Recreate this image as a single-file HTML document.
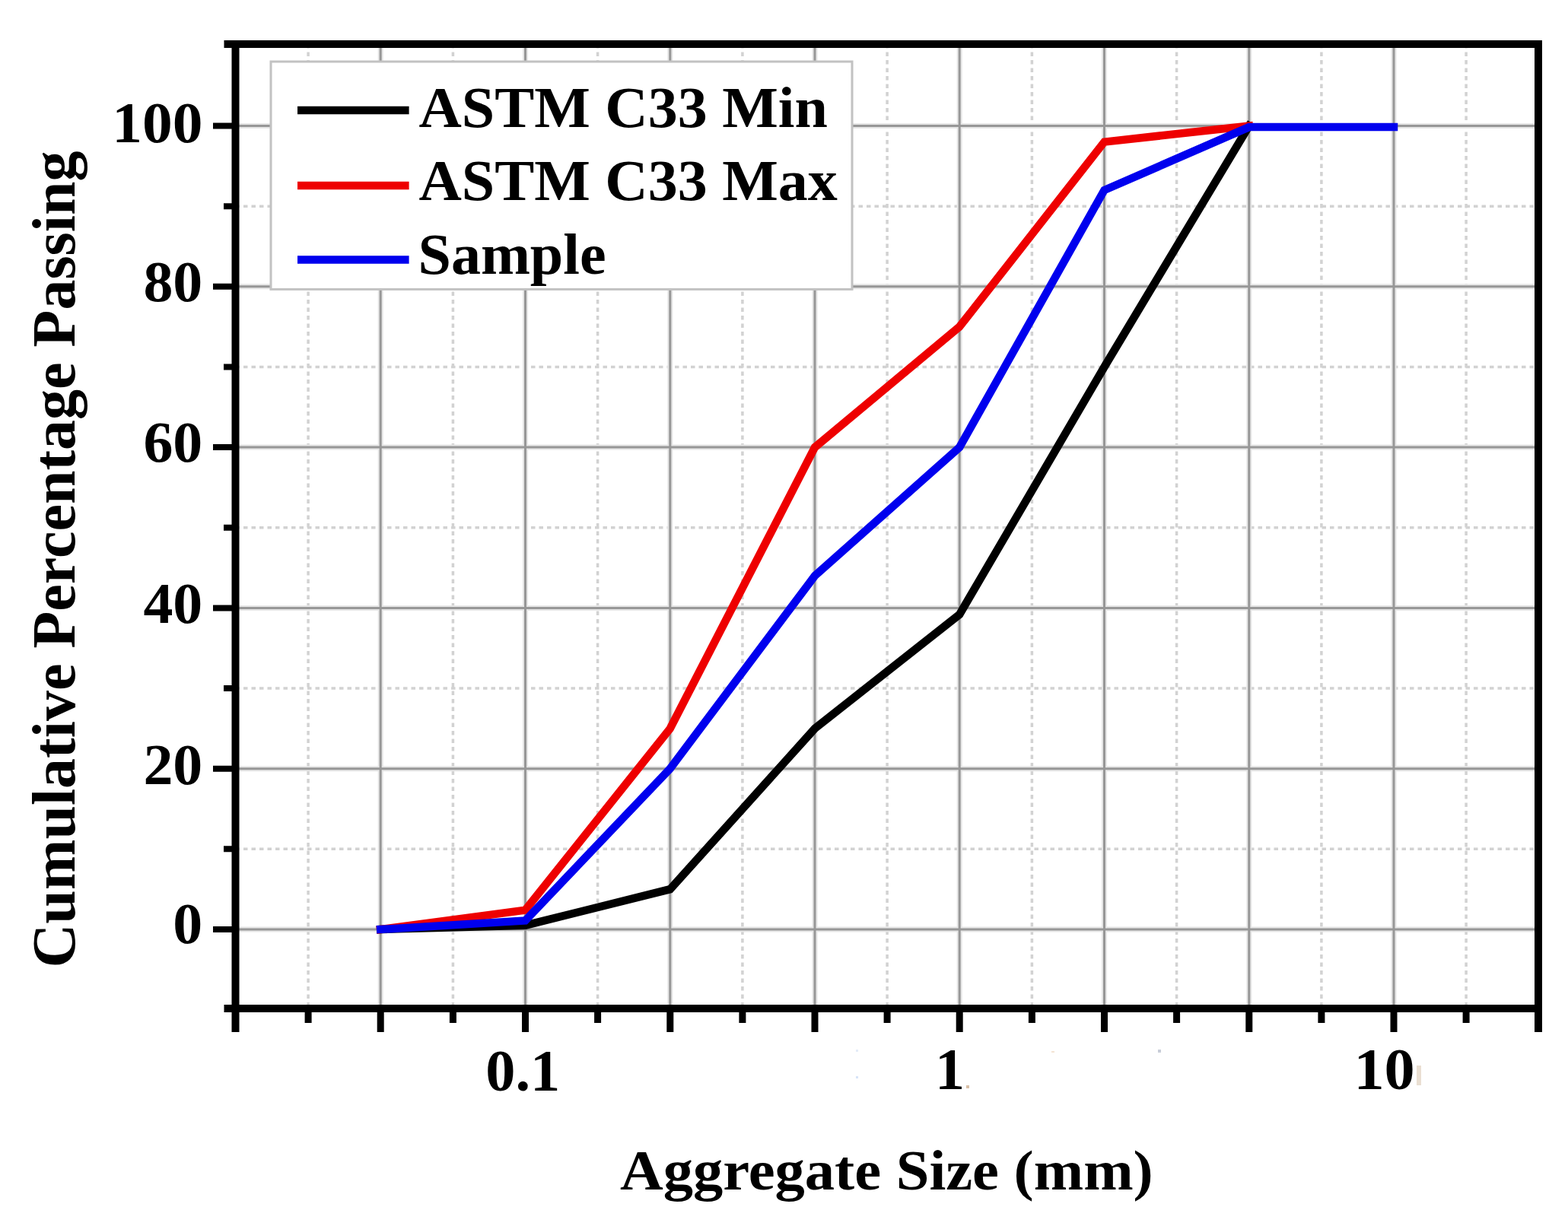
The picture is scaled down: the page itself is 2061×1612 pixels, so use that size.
<!DOCTYPE html><html><head><meta charset="utf-8"><style>html,body{margin:0;padding:0;background:#fff;}svg{display:block;filter:blur(0.55px);}text{font-family:"Liberation Serif","Times New Roman",serif;font-weight:bold;fill:#000;}</style></head><body>
<svg width="2061" height="1612" viewBox="0 0 2061 1612">
<rect width="2061" height="1612" fill="#fff"/>
<path d="M405.1 58.0V1326.0M595.4 58.0V1326.0M785.6 58.0V1326.0M975.9 58.0V1326.0M1166.1 58.0V1326.0M1356.4 58.0V1326.0M1546.6 58.0V1326.0M1736.9 58.0V1326.0M1927.1 58.0V1326.0M309.5 1116.3H2022.0M309.5 905.0H2022.0M309.5 693.8H2022.0M309.5 482.5H2022.0M309.5 271.2H2022.0" stroke="#d2d2d2" stroke-width="3.5" stroke-dasharray="5.5 5" fill="none"/>
<path d="M500.2 58.0V1326.0M690.5 58.0V1326.0M880.8 58.0V1326.0M1071.0 58.0V1326.0M1261.2 58.0V1326.0M1451.5 58.0V1326.0M1641.8 58.0V1326.0M1832.0 58.0V1326.0M309.5 1222.0H2022.0M309.5 1010.7H2022.0M309.5 799.4H2022.0M309.5 588.1H2022.0M309.5 376.8H2022.0M309.5 165.5H2022.0" stroke="#e6e6e6" stroke-width="7" fill="none"/>
<path d="M500.2 58.0V1326.0M690.5 58.0V1326.0M880.8 58.0V1326.0M1071.0 58.0V1326.0M1261.2 58.0V1326.0M1451.5 58.0V1326.0M1641.8 58.0V1326.0M1832.0 58.0V1326.0M309.5 1222.0H2022.0M309.5 1010.7H2022.0M309.5 799.4H2022.0M309.5 588.1H2022.0M309.5 376.8H2022.0M309.5 165.5H2022.0" stroke="#979797" stroke-width="3" fill="none"/>
<rect x="356" y="81" width="764" height="299.4" fill="#fff" stroke="#c2c2c2" stroke-width="3"/>
<path d="M391 145H537.6" stroke="#000" stroke-width="10.5" fill="none"/>
<path d="M391 244H537.6" stroke="#ee0000" stroke-width="10.5" fill="none"/>
<path d="M391 341.4H537.6" stroke="#0000ee" stroke-width="10.5" fill="none"/>
<text transform="translate(550.52 166.80) scale(1.0130 1)" font-size="77">ASTM C33 Min</text>
<text transform="translate(550.52 263.40) scale(1.0130 1)" font-size="77">ASTM C33 Max</text>
<text transform="translate(549.50 360.20) scale(1.0130 1)" font-size="77">Sample</text>
<polyline points="500.2,1222.0 690.5,1216.7 880.8,1169.2 1071.0,957.9 1261.2,807.9 1451.5,482.5 1641.8,165.5" stroke="#000000" stroke-width="10.5" fill="none" stroke-linejoin="miter" stroke-linecap="square"/>
<polyline points="500.2,1222.0 690.5,1196.6 880.8,957.9 1071.0,588.1 1261.2,429.6 1451.5,186.6 1641.8,165.5" stroke="#ee0000" stroke-width="10.5" fill="none" stroke-linejoin="miter" stroke-linecap="square"/>
<polyline points="500.2,1222.0 690.5,1210.4 880.8,1010.7 1071.0,757.1 1261.2,588.1 1451.5,250.0 1641.8,167.1 1832.0,167.1" stroke="#0000ee" stroke-width="10.5" fill="none" stroke-linejoin="miter" stroke-linecap="square"/>
<path d="M294.5 58.0H2027.0M294.5 1326.0H2022.0" stroke="#000" stroke-width="10" fill="none"/>
<path d="M309.5 53.0V1357M2022.0 53.0V1357" stroke="#000" stroke-width="10" fill="none"/>
<path d="M280 1222.0H309.5M280 1010.7H309.5M280 799.4H309.5M280 588.1H309.5M280 376.8H309.5M280 165.5H309.5M294 1116.3H309.5M294 905.0H309.5M294 693.8H309.5M294 482.5H309.5M294 271.2H309.5" stroke="#000" stroke-width="8" fill="none"/>
<path d="M500.2 1326.0V1357M690.5 1326.0V1357M880.8 1326.0V1357M1071.0 1326.0V1357M1261.2 1326.0V1357M1451.5 1326.0V1357M1641.8 1326.0V1357M1832.0 1326.0V1357M405.1 1326.0V1345M595.4 1326.0V1345M785.6 1326.0V1345M975.9 1326.0V1345M1166.1 1326.0V1345M1356.4 1326.0V1345M1546.6 1326.0V1345M1736.9 1326.0V1345M1927.1 1326.0V1345" stroke="#000" stroke-width="9" fill="none"/>
<text transform="translate(147.18 186.75) scale(1.0320 1)" font-size="77">100</text>
<text transform="translate(188.40 395.65) scale(1.0120 1)" font-size="77">80</text>
<text transform="translate(188.40 606.95) scale(1.0120 1)" font-size="77">60</text>
<text transform="translate(188.40 818.75) scale(1.0120 1)" font-size="77">40</text>
<text transform="translate(188.40 1030.75) scale(1.0120 1)" font-size="77">20</text>
<text transform="translate(227.36 1239.95) scale(1.0120 1)" font-size="77">0</text>
<text transform="translate(638.27 1434.00) scale(1.0080 1)" font-size="77.8">0.1</text>
<text transform="translate(1228.92 1432.40) scale(1.0030 1)" font-size="77.8">1</text>
<text transform="translate(1779.45 1431.60) scale(1.0320 1)" font-size="77.8">10</text>
<rect x="1270" y="1427" width="4" height="4" fill="#d8c0a8"/>
<rect x="1862" y="1401" width="6" height="26" fill="#eadfd2"/>
<rect x="1522" y="1380" width="4" height="4" fill="#c8cdd8"/>
<rect x="1125" y="1380" width="3" height="3" fill="#e4ecf8"/>
<rect x="1125" y="1415" width="3" height="3" fill="#d8e4f8"/>
<rect x="1382" y="1382" width="4" height="2" fill="#f4e4d4"/>
<text transform="translate(815.01 1564.00) scale(1.0500 1)" font-size="74.8">Aggregate Size (mm)</text>
<text transform="translate(97.8 1272.50) rotate(-90)" font-size="80">Cumulative Percentage Passing</text>
</svg></body></html>
